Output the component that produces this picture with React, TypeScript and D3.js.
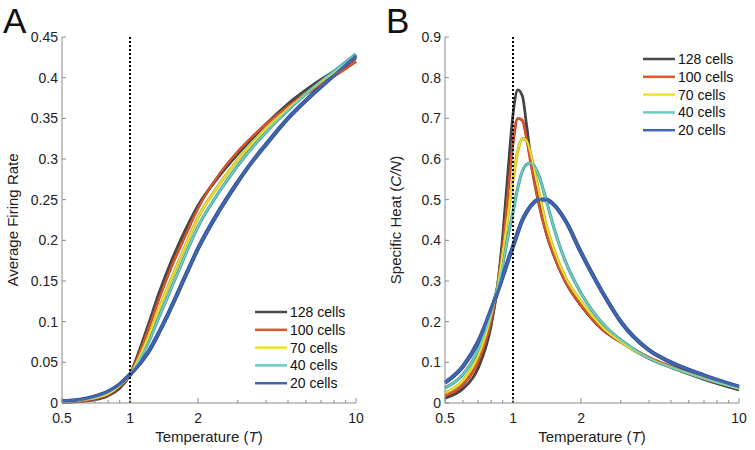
import React from "react";
import * as d3 from "d3";

// temperatures sampled for each panel
const tempA = [0.5, 0.6, 0.7, 0.8, 0.9, 1, 1.1, 1.2, 1.35, 1.5, 1.75, 2, 2.5, 3, 3.5, 4, 5, 6, 7, 8, 10];
const tempB = [0.5, 0.6, 0.7, 0.8, 0.85, 0.9, 0.95, 1, 1.05, 1.1, 1.15, 1.2, 1.3, 1.4, 1.5, 1.7, 2, 2.5, 3, 4, 5, 7, 10];

const cellLabels = ["128 cells", "100 cells", "70 cells", "40 cells", "20 cells"];

// average firing rate (panel A)
const rate128 = [0.001, 0.002, 0.004, 0.009, 0.018, 0.035, 0.065, 0.095, 0.137, 0.17, 0.212, 0.243, 0.28, 0.306, 0.326, 0.343, 0.368, 0.385, 0.398, 0.408, 0.424];
const rate100 = [0.001, 0.002, 0.005, 0.01, 0.02, 0.035, 0.062, 0.09, 0.13, 0.163, 0.205, 0.24, 0.282, 0.309, 0.328, 0.343, 0.365, 0.38, 0.392, 0.402, 0.42];
const rate70 = [0.0015, 0.003, 0.006, 0.011, 0.021, 0.035, 0.057, 0.08, 0.117, 0.148, 0.192, 0.228, 0.27, 0.299, 0.32, 0.337, 0.362, 0.38, 0.395, 0.406, 0.426];
const rate40 = [0.002, 0.0035, 0.007, 0.013, 0.022, 0.035, 0.053, 0.073, 0.107, 0.137, 0.181, 0.217, 0.261, 0.292, 0.315, 0.333, 0.36, 0.38, 0.396, 0.408, 0.429];
const rate20 = [0.002, 0.004, 0.008, 0.014, 0.023, 0.035, 0.048, 0.062, 0.088, 0.114, 0.155, 0.19, 0.238, 0.272, 0.298, 0.318, 0.35, 0.372, 0.389, 0.403, 0.427];

// specific heat (panel B)
const heat128 = [0.012, 0.035, 0.085, 0.19, 0.28, 0.41, 0.57, 0.71, 0.77, 0.755, 0.68, 0.6, 0.5, 0.42, 0.37, 0.3, 0.24, 0.18, 0.15, 0.11, 0.088, 0.058, 0.032];
const heat100 = [0.017, 0.045, 0.1, 0.2, 0.278, 0.39, 0.52, 0.64, 0.70, 0.695, 0.65, 0.59, 0.49, 0.42, 0.37, 0.3, 0.24, 0.18, 0.15, 0.112, 0.09, 0.062, 0.036];
const heat70 = [0.025, 0.055, 0.115, 0.215, 0.28, 0.37, 0.46, 0.55, 0.62, 0.65, 0.645, 0.61, 0.52, 0.44, 0.385, 0.31, 0.25, 0.185, 0.15, 0.11, 0.088, 0.06, 0.035];
const heat40 = [0.037, 0.07, 0.13, 0.22, 0.28, 0.34, 0.41, 0.47, 0.53, 0.57, 0.587, 0.59, 0.56, 0.5, 0.44, 0.35, 0.27, 0.195, 0.155, 0.11, 0.088, 0.06, 0.036];
const heat20 = [0.05, 0.09, 0.15, 0.23, 0.27, 0.31, 0.35, 0.385, 0.42, 0.45, 0.47, 0.485, 0.5, 0.5, 0.49, 0.45, 0.37, 0.27, 0.2, 0.13, 0.1, 0.068, 0.04];

const xTicks = [0.5, 1, 2, 10];
const xMinor = [0.6, 0.7, 0.8, 0.9, 3, 4, 5, 6, 7, 8, 9];
const yTicksA = [0, 0.05, 0.1, 0.15, 0.2, 0.25, 0.3, 0.35, 0.4, 0.45];
const yTicksB = [0, 0.1, 0.2, 0.3, 0.4, 0.5, 0.6, 0.7, 0.8, 0.9];

const colors = ["#4a4a4a", "#e2562b", "#ece22e", "#6fcdc3", "#4066b0"];
const edges = ["#3a3a3a", "#b03c1c", "#b8aa22", "#3f958c", "#26428a"];
const widths = [1.4, 1.6, 1.8, 1.8, 2.8];

const font = "'Liberation Sans', Arial, sans-serif";

type Props = {
  x0: number;
  letter: string;
  temps: number[];
  series: number[][];
  yMax: number;
  yTicks: number[];
  ylabel: React.ReactNode;
  legendX: number;
  legendY: number;
};

const Panel = ({ x0, letter, temps, series, yMax, yTicks, ylabel, legendX, legendY }: Props) => {
  const top = 37;
  const bottom = 403;
  const x = d3.scaleLog().domain([0.5, 10]).range([x0, x0 + 294]);
  const y = d3.scaleLinear().domain([0, yMax]).range([bottom, top]);
  const line = d3
    .line<number>()
    .x((_, i) => x(temps[i]))
    .y((d) => y(d))
    .curve(d3.curveMonotoneX);
  const fmt = (v: number) => (v === 0 ? "0" : String(+v.toFixed(2)));
  const axisColor = "#8a8a8a";

  return (
    <g fontFamily={font}>
      <text x={x0 - 59} y={33} fontSize={35} fill="#111">
        {letter}
      </text>
      {/* curves: dark edge under a coloured band */}
      {series.map((s, i) => (
        <path key={"e" + i} d={line(s) || ""} fill="none" stroke={edges[i]} strokeWidth={widths[i] + 1.3} />
      ))}
      {series.map((s, i) => (
        <path key={"c" + i} d={line(s) || ""} fill="none" stroke={colors[i]} strokeWidth={widths[i]} />
      ))}
      {/* reference line at T = 1 */}
      <line x1={x(1)} x2={x(1)} y1={y(yMax)} y2={bottom} stroke="#000" strokeWidth={2} strokeDasharray="2,2" />
      {/* axes */}
      <line x1={x0} x2={x0} y1={top} y2={bottom} stroke={axisColor} />
      <line x1={x0} x2={x(10)} y1={bottom} y2={bottom} stroke={axisColor} />
      {yTicks.map((t) => (
        <g key={t}>
          <line x1={x0} x2={x0 + 4} y1={y(t)} y2={y(t)} stroke={axisColor} />
          <text x={x0 - 4} y={y(t) + 5} textAnchor="end" fontSize={14} fill="#222">
            {fmt(t)}
          </text>
        </g>
      ))}
      {xTicks.map((t) => (
        <g key={t}>
          <line x1={x(t)} x2={x(t)} y1={bottom} y2={bottom - 5} stroke={axisColor} />
          <text x={x(t)} y={bottom + 20} textAnchor="middle" fontSize={14} fill="#222">
            {t}
          </text>
        </g>
      ))}
      {xMinor.map((t) => (
        <line key={t} x1={x(t)} x2={x(t)} y1={bottom} y2={bottom - 3} stroke={axisColor} />
      ))}
      <text x={x0 + 147} y={442} textAnchor="middle" fontSize={15} fill="#222">
        Temperature (<tspan fontStyle="italic">T</tspan>)
      </text>
      <text
        transform={`translate(${x0 - 44},${(top + bottom) / 2}) rotate(-90)`}
        textAnchor="middle"
        fontSize={15}
        fill="#222"
      >
        {ylabel}
      </text>
      {/* legend */}
      {cellLabels.map((lab, i) => (
        <g key={lab} transform={`translate(${legendX},${legendY + i * 17.8})`}>
          <line x1={0} x2={32} y1={0} y2={0} stroke={colors[i]} strokeWidth={2.5} />
          <text x={35} y={5} fontSize={14} fill="#111">
            {lab}
          </text>
        </g>
      ))}
    </g>
  );
};

export default function App() {
  return (
    <svg width={755} height={450} style={{ position: "absolute", left: 0, top: 0, background: "#fff" }}>
      <Panel
        x0={62}
        letter="A"
        temps={tempA}
        series={[rate128, rate100, rate70, rate40, rate20]}
        yMax={0.45}
        yTicks={yTicksA}
        ylabel="Average Firing Rate"
        legendX={255}
        legendY={312}
      />
      <Panel
        x0={445}
        letter="B"
        temps={tempB}
        series={[heat128, heat100, heat70, heat40, heat20]}
        yMax={0.9}
        yTicks={yTicksB}
        ylabel={
          <>
            Specific Heat (<tspan fontStyle="italic">C/N</tspan>)
          </>
        }
        legendX={643}
        legendY={59}
      />
    </svg>
  );
}
